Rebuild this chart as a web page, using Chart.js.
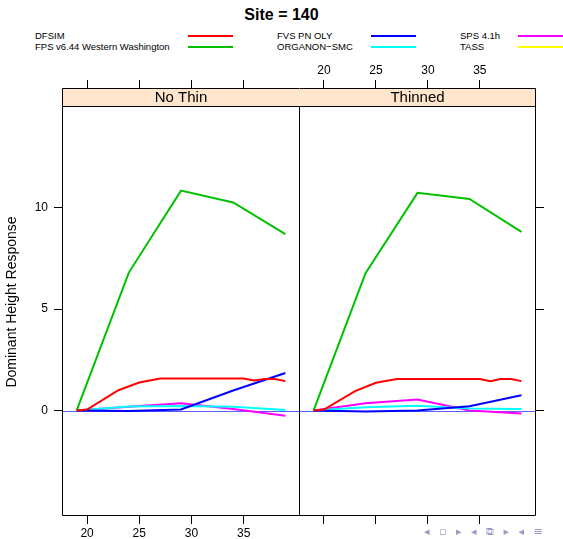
<!DOCTYPE html>
<html>
<head>
<meta charset="utf-8">
<script src="https://cdn.jsdelivr.net/npm/chart.js@4/dist/chart.umd.min.js"></script>
<style>
  body { margin: 0; background: #fff; font-family: "Liberation Sans", Arial, sans-serif; }
  #wrap { position: relative; width: 563px; height: 539px; overflow: hidden; }
  #title { position: absolute; left: 0; width: 563px; top: 6px; text-align: center; font-weight: bold; font-size: 16px; }
  .key { position: absolute; font-size: 9.5px; line-height: 11px; white-space: nowrap; }
  .swatch { position: absolute; height: 2px; width: 45px; }
  canvas { position: absolute; }
  #nav { position: absolute; left: 424px; top: 525px; font-family: "DejaVu Sans"; font-size: 11px; color: #9a9ac8; letter-spacing: 3px; white-space: nowrap; }
</style>
</head>
<body>
<div id="wrap">
  <div id="title">Site = 140</div>
  <div id="legend"></div>
  <canvas id="panel1" width="300" height="490" style="left:0;top:50px"></canvas>
  <canvas id="panel2" width="264" height="490" style="left:299px;top:50px"></canvas>
  <div id="nav">◂ ▫ ▸ ◂ ⧉ ▸ ◂ ≡</div>
</div>
<script>
// model names and colours
const models = ["DFSIM", "FPS v6.44 Western Washington", "FVS PN OLY", "ORGANON\u2212SMC", "SPS 4.1h", "TASS"]
const colors = ["#ff0000", "#00c000", "#0000ff", "#00ffff", "#ff00ff", "#ffff00"]

// ages
const yearsFine = [19, 20, 23, 25, 27, 35, 36, 37, 38, 39]
const years = [19, 24, 29, 34, 39]

// No Thin
const dfsimNoThin = [0, 0.05, 1.0, 1.38, 1.58, 1.58, 1.48, 1.55, 1.55, 1.45]
const fpsNoThin = [0, 6.8, 10.84, 10.26, 8.7]
const fvsNoThin = [0, -0.02, 0.05, 0.99, 1.85]
const organonNoThin = [0, 0.2, 0.22, 0.18, 0.02]
const spsNoThin = [0, 0.18, 0.36, 0.08, -0.26]

// Thinned
const dfsimThinned = [0, 0.05, 0.96, 1.37, 1.55, 1.55, 1.45, 1.55, 1.55, 1.45]
const fpsThinned = [0, 6.77, 10.73, 10.43, 8.81]
const fvsThinned = [0, -0.05, 0, 0.21, 0.75]
const organonThinned = [0, 0.16, 0.23, 0.1, 0.07]
const spsThinned = [0, 0.36, 0.54, 0, -0.15]

const xTicks = [20, 25, 30, 35]
const yTicks = [0, 5, 10]

// legend (3 columns x 2 rows)
const legend = document.getElementById("legend")
const colText = [35, 277, 460]
const colLine = [188, 371, 518]
const rowY = [30, 41]
models.forEach((m, i) => {
  const col = Math.floor(i / 2)
  const row = i % 2
  const t = document.createElement("div")
  t.className = "key"
  t.style.left = colText[col] + "px"
  t.style.top = rowY[row] + "px"
  t.textContent = m
  legend.appendChild(t)
  const s = document.createElement("div")
  s.className = "swatch"
  s.style.left = colLine[col] + "px"
  s.style.top = rowY[row] + 5 + "px"
  s.style.background = colors[i]
  legend.appendChild(s)
})

function pts(xs, ys) {
  return xs.map((x, i) => ({ x: x, y: ys[i] }))
}

function makeSets(dfsim, fps, fvs, organon, sps) {
  const series = [pts(yearsFine, dfsim), pts(years, fps), pts(years, fvs), pts(years, organon), pts(years, sps), []]
  return series.map((d, i) => ({
    label: models[i],
    data: d,
    borderColor: colors[i],
    backgroundColor: colors[i],
    borderWidth: 2,
    pointRadius: 0,
    showLine: true,
    tension: 0,
  }))
}

// panel box, strip and zero line
const stripH = 18
function panelPlugin(stripLabel, drawLeftEdge) {
  return {
    id: "panel",
    beforeDatasetsDraw(chart) {
      const { ctx, chartArea: a, scales } = chart
      const y0 = Math.round(scales.y.getPixelForValue(0)) + 0.5
      ctx.save()
      ctx.strokeStyle = "rgba(40,40,255,0.75)"
      ctx.lineWidth = 1
      ctx.beginPath()
      ctx.moveTo(a.left, y0)
      ctx.lineTo(a.right, y0)
      ctx.stroke()
      ctx.restore()
    },
    afterDatasetsDraw(chart) {
      const { ctx, chartArea: a } = chart
      const l = Math.round(a.left) + 0.5
      const r = Math.round(a.right) - 0.5
      const t = Math.round(a.top) + 0.5
      const b = Math.round(a.bottom) - 0.5
      ctx.save()
      ctx.fillStyle = "#ffe5cc"
      ctx.fillRect(a.left, a.top, a.right - a.left, stripH)
      ctx.strokeStyle = "#000"
      ctx.lineWidth = 1
      ctx.beginPath()
      ctx.moveTo(l, t + stripH)
      ctx.lineTo(r, t + stripH)
      ctx.moveTo(l, t)
      ctx.lineTo(r, t)
      ctx.lineTo(r, b)
      ctx.lineTo(l, b)
      if (drawLeftEdge) ctx.lineTo(l, t)
      ctx.stroke()
      ctx.fillStyle = "#000"
      ctx.font = "15px 'Liberation Sans', Arial, sans-serif"
      ctx.textAlign = "center"
      ctx.textBaseline = "middle"
      ctx.fillText(stripLabel, (a.left + a.right) / 2, a.top + stripH / 2 + 1)
      ctx.restore()
    },
  }
}

const tickFont = { family: "'Liberation Sans', Arial, sans-serif", size: 12 }

function xAxis(position, labels, height) {
  return {
    type: "linear",
    position: position,
    min: 17.6,
    max: 40.4,
    afterBuildTicks: (s) => { s.ticks = xTicks.map((v) => ({ value: v })) },
    afterFit: (s) => { s.height = height },
    border: { display: false },
    grid: { drawOnChartArea: false, drawTicks: true, tickLength: 8, color: "#000" },
    ticks: { display: true, color: "#000", font: tickFont, padding: 2, maxRotation: 0, callback: (v) => (labels ? v : "") },
  }
}

function yAxis(position, labels, width, withTitle) {
  return {
    type: "linear",
    position: position,
    min: -5.2,
    max: 15.9,
    afterBuildTicks: (s) => { s.ticks = yTicks.map((v) => ({ value: v })) },
    afterFit: (s) => { s.width = width },
    border: { display: false },
    grid: { drawOnChartArea: false, drawTicks: true, tickLength: 8, color: "#000" },
    ticks: { color: "#000", font: tickFont, padding: 6, callback: (v) => (labels ? v : "") },
    title: {
      display: withTitle,
      text: "Dominant Height Response",
      color: "#000",
      font: { family: "'Liberation Sans', Arial, sans-serif", size: 14 },
      padding: { top: 4, bottom: 0 },
    },
  }
}

const common = {
  responsive: false,
  animation: false,
  plugins: { legend: { display: false }, tooltip: { enabled: false } },
}

new Chart(document.getElementById("panel1"), {
  type: "scatter",
  data: { datasets: makeSets(dfsimNoThin, fpsNoThin, fvsNoThin, organonNoThin, spsNoThin) },
  options: {
    ...common,
    layout: { padding: { left: 0, right: 0, top: 0, bottom: 0 } },
    scales: {
      x: xAxis("bottom", true, 24),
      x2: xAxis("top", false, 38),
      y: yAxis("left", true, 62, true),
    },
  },
  plugins: [panelPlugin("No Thin", true)],
})

new Chart(document.getElementById("panel2"), {
  type: "scatter",
  data: { datasets: makeSets(dfsimThinned, fpsThinned, fvsThinned, organonThinned, spsThinned) },
  options: {
    ...common,
    layout: { padding: { left: 0, right: 0, top: 0, bottom: 0 } },
    scales: {
      x: xAxis("bottom", false, 24),
      x2: xAxis("top", true, 38),
      y: yAxis("right", false, 27, false),
    },
  },
  plugins: [panelPlugin("Thinned", false)],
})
</script>
</body>
</html>
